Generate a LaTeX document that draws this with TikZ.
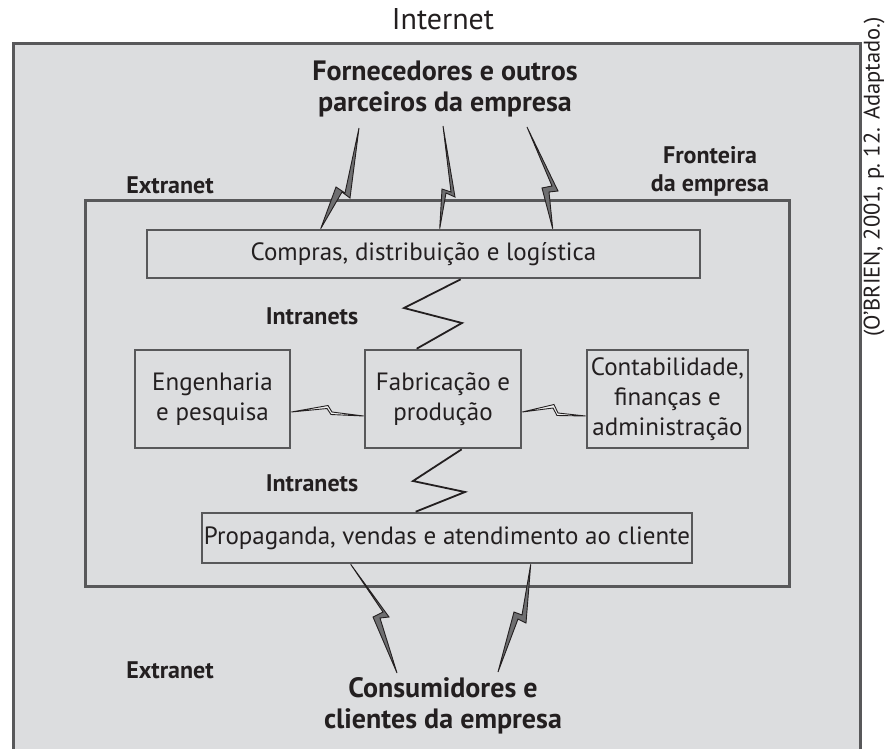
\documentclass[tikz,border=0pt]{standalone}
\usepackage{fontspec}
\setmainfont{PT Sans}
\usetikzlibrary{calc}
\definecolor{panel}{HTML}{DCDDDF}
\definecolor{rule}{HTML}{58585A}
\definecolor{ink}{HTML}{231F20}
\definecolor{boltfill}{HTML}{6E6E70}
\tikzset{
  unitbox/.style={draw=rule, line width=2.6pt, fill=panel, inner sep=0pt,
    align=center, text=ink, font=\fontsize{25}{30}\selectfont},
  blabel/.style={text=ink, align=center, font=\bfseries\fontsize{24}{28}\selectfont},
  biglabel/.style={text=ink, align=center, font=\bfseries\fontsize{28}{31}\selectfont},
  bolt/.style={fill=boltfill, draw=ink, line width=0.9pt, line join=miter},
  minibolt/.style={fill=panel!50!white, draw=ink, line width=0.9pt, line join=miter},
  zigzag/.style={draw=ink, line width=1.8pt, line join=miter},
}
\begin{document}
\begin{tikzpicture}[x=1pt, y=-1pt]
\useasboundingbox (0,0) rectangle (886,748);
% Internet and enterprise boundary
\fill[white] (0,0) rectangle (886,748);
\draw[rule, line width=3pt, fill=panel] (13,43) rectangle (860,760);
\draw[rule, line width=3pt] (85,200) rectangle (789,586);

\node[text=ink, font=\fontsize{30}{34}\selectfont] (internet) at (443,19) {Internet};
\node[text=ink, rotate=90, font=\fontsize{22.5}{26}\selectfont] (cite) at (874,177) {(O’BRIEN, 2001, p.\ 12. Adaptado.)};

\node[biglabel] (suppliers) at (445,89) {Fornecedores e outros\\parceiros da empresa};
\node[blabel] (border) at (710,171) {Fronteira\\da empresa};
\node[blabel] (extranetA) at (170,185) {Extranet};
\node[blabel] (intranetA) at (312,316) {Intranets};
\node[blabel] (intranetB) at (312,483) {Intranets};
\node[blabel] (extranetB) at (170,670) {Extranet};
\node[biglabel] (customers) at (443,706) {Consumidores e\\clientes da empresa};

% Business units
\node[unitbox, minimum width=553pt, minimum height=48pt] (compras) at (423.5,254) {Compras, distribuição e logística};
\node[unitbox, minimum width=155pt, minimum height=98pt] (eng) at (212.5,399) {Engenharia\\e pesquisa};
\node[unitbox, minimum width=156pt, minimum height=98pt] (fab) at (443,399) {Fabricação e\\produção};
\node[unitbox, minimum width=161pt, minimum height=98pt] (cont) at (667.5,399) {Contabilidade,\\finanças e\\administração};
\node[unitbox, minimum width=490pt, minimum height=50pt] (prop) at (447,538) {Propaganda, vendas e atendimento ao cliente};

% Extranet links to suppliers
\coordinate (s1) at ($(compras.north west)+(175,0)$);
\coordinate (s2) at ($(compras.north west)+(294,0)$);
\coordinate (s3) at ($(compras.north west)+(407,0)$);
\coordinate (t1) at (359,128);
\coordinate (t2) at (443,126);
\coordinate (t3) at (527,127);
\filldraw[bolt] (t1) -- (350,198) -- (342,192) -- (s1) -- (336,187) -- (345,193) -- cycle;
\filldraw[bolt] (t2) -- (455,197) -- (446,193) -- (s2) -- (442,189) -- (451,192) -- cycle;
\filldraw[bolt] (t3) -- (558,191) -- (549,192) -- (s3) -- (542,188) -- (552,186) -- cycle;

% Extranet links to customers
\coordinate (c1) at ($(prop.south west)+(150,0)$);
\coordinate (c2) at ($(prop.south west)+(330,0)$);
\coordinate (u1) at (397,673);
\coordinate (u2) at (498,672);
\filldraw[bolt] (c1) -- (389,617) -- (380,618) -- (u1) -- (373,617) -- (383,612) -- cycle;
\filldraw[bolt] (c2) -- (526,623) -- (518,619) -- (u2) -- (514,612) -- (522,615) -- cycle;

% Intranet links
\coordinate (i1) at ($(compras.south west)+(315,0)$);
\coordinate (i2) at ($(fab.north west)+(53,0)$);
\coordinate (i3) at ($(fab.south west)+(98,0)$);
\coordinate (i4) at ($(prop.north west)+(215,0)$);
\draw[zigzag] (i1) -- (404,308) -- (462,323) -- (i2);
\draw[zigzag] (i3) -- (413,481) -- (465,492) -- (i4);

\coordinate (e1) at ($(eng.east)+(0,13)$);
\coordinate (e2) at ($(fab.west)+(0,17)$);
\coordinate (e3) at ($(fab.east)+(0,13)$);
\coordinate (e4) at ($(cont.west)+(0,17)$);
\filldraw[minibolt] (e1) -- (328,405.5) -- (332,412) -- (e2) -- (331,414.5) -- (327,408.5) -- cycle;
\filldraw[minibolt] (e3) -- (554,404.5) -- (558,413) -- (e4) -- (557,415.5) -- (553,408) -- cycle;
\end{tikzpicture}
\end{document}
